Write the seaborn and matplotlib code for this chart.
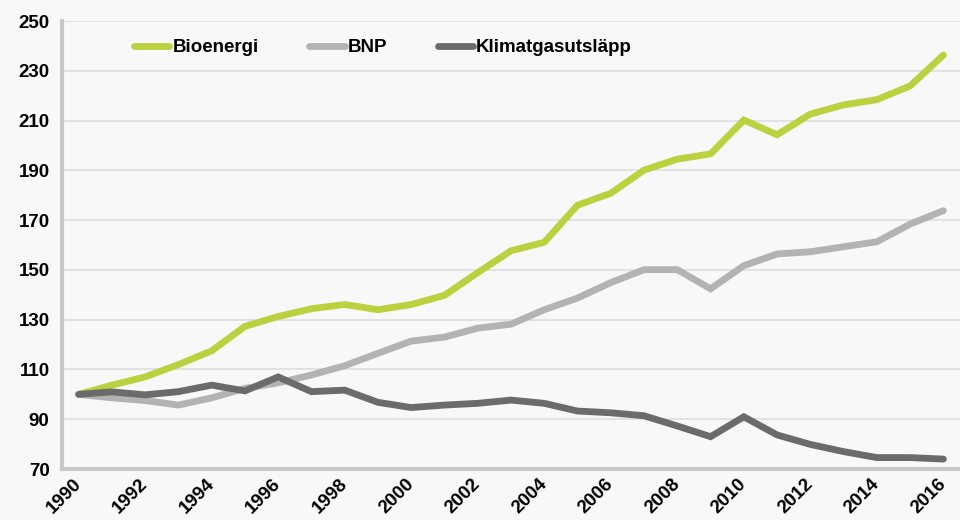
import pandas as pd
import matplotlib.pyplot as plt
import seaborn as sns

# Data (index, 1990 = 100)
YEARS = list(range(1990, 2017))
BIOENERGI = [100, 103.7, 107, 112, 117.5, 127.3, 131.3, 134.4, 136.1, 134.0,
             136.1, 139.8, 148.9, 157.7, 161.1, 176.0, 180.8, 190.1, 194.5, 196.6,
             210.2, 204.3, 212.6, 216.3, 218.4, 223.9, 236.3]
BNP = [100, 98.6, 97.5, 95.7, 98.6, 102.4, 104.6, 107.8, 111.5, 116.5,
       121.4, 123.0, 126.6, 128.2, 134.0, 138.7, 144.9, 150.1, 150.1, 142.4,
       151.7, 156.4, 157.3, 159.3, 161.3, 168.4, 173.8]
KLIMAT = [100, 101.0, 99.8, 101.1, 103.7, 101.4, 107.0, 101.1, 101.7, 96.8,
          94.7, 95.7, 96.4, 97.7, 96.4, 93.3, 92.6, 91.4, 87.3, 83.0,
          91.0, 83.7, 79.9, 77.0, 74.6, 74.6, 74.0]
SERIES = ['Bioenergi', 'BNP', 'Klimatgasutsläpp']
COLORS = ['#bbd140', '#b3b3b3', '#6b6b6b']
Y_TICKS = list(range(70, 251, 20))
X_LABELS = list(range(1990, 2017, 2))

BG = '#f8f8f8'
AXIS_GRAY = '#c8c8c8'
LW = 4.9


def build_frame():
    """Long-form table for seaborn."""
    parts = []
    for name, values in zip(SERIES, [BIOENERGI, BNP, KLIMAT]):
        parts.append(pd.DataFrame({'year': YEARS, 'value': values, 'serie': name}))
    return pd.concat(parts, ignore_index=True)


def main():
    sns.set_style('white')
    plt.rcParams['font.family'] = ['Liberation Sans', 'DejaVu Sans']
    plt.rcParams['font.weight'] = 'bold'
    plt.rcParams['text.color'] = 'black'
    plt.rcParams['xtick.labelcolor'] = 'black'
    plt.rcParams['ytick.labelcolor'] = 'black'

    df = build_frame()

    fig = plt.figure(figsize=(9.6, 5.2), dpi=100, facecolor=BG)
    ax = fig.add_axes([0.0646, 0.098, 0.9354, 0.8616])
    ax.set_facecolor(BG)

    sns.lineplot(data=df, x='year', y='value', hue='serie', hue_order=SERIES,
                 palette=COLORS, linewidth=LW, ax=ax, legend=False,
                 solid_capstyle='round', solid_joinstyle='miter')

    # Axes limits, grid
    ax.set_xlim(1989.5, 2016.5)
    ax.set_ylim(70, 250)
    ax.set_yticks(Y_TICKS)
    ax.yaxis.grid(True, color='#dedede', linewidth=1.2)
    ax.set_axisbelow(True)

    # x ticks: labels on even years, tick marks on category boundaries
    ax.set_xticks(X_LABELS)
    ax.set_xticks([y - 0.5 for y in YEARS] + [2016.5], minor=True)
    ax.set_xticklabels([str(y) for y in X_LABELS], rotation=45, ha='right',
                       va='center', rotation_mode='anchor', fontsize=13.5,
                       fontweight='bold', color='black')
    ax.tick_params(axis='x', which='major', length=0, pad=9)
    ax.tick_params(axis='x', which='minor', length=5, width=2.5, color=AXIS_GRAY,
                   direction='out')
    ax.tick_params(axis='y', length=5, width=2.5, color=AXIS_GRAY, labelsize=13.5,
                   labelcolor='black', pad=4)
    for lbl in ax.get_yticklabels():
        lbl.set_fontweight('bold')

    for side in ['top', 'right']:
        ax.spines[side].set_visible(False)
    for side in ['left', 'bottom']:
        ax.spines[side].set_color(AXIS_GRAY)
        ax.spines[side].set_linewidth(3)

    ax.set_xlabel('')
    ax.set_ylabel('')

    # Legend
    handles = [plt.Line2D([], [], color=c, linewidth=LW, solid_capstyle='round')
               for c in COLORS]
    leg = ax.legend(handles, SERIES, loc='center left', bbox_to_anchor=(0.08, 0.94),
                    ncol=3, frameon=False, handlelength=1.9, handletextpad=0.15,
                    columnspacing=2.7, borderpad=0, borderaxespad=0,
                    prop={'size': 13.5, 'weight': 'bold'})
    for t in leg.get_texts():
        t.set_color('black')

    fig.savefig('out.png', dpi=100, facecolor=BG)


if __name__ == "__main__":
    main()
